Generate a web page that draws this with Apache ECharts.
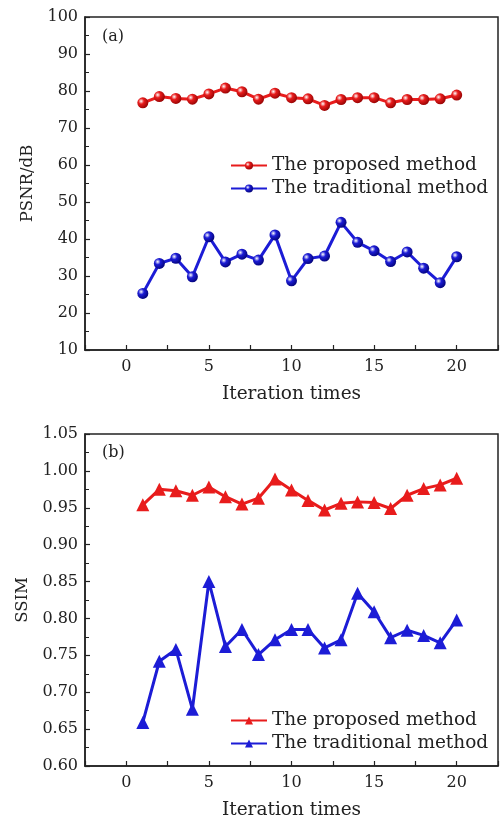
<!DOCTYPE html>
<html>
<head>
<meta charset="utf-8">
<script src="https://cdn.jsdelivr.net/npm/echarts@6/dist/echarts.min.js"></script>
<style>
html,body{margin:0;padding:0;background:#fff;}
#main{width:501px;height:821px;}
</style>
</head>
<body>
<div id="main"></div>
<script>
// 迭代次数
var iterations = [1,2,3,4,5,6,7,8,9,10,11,12,13,14,15,16,17,18,19,20];
// (a) PSNR
var psnrProposed = [76.8,78.5,78.0,77.8,79.2,80.8,79.8,77.8,79.4,78.2,77.9,76.1,77.7,78.2,78.2,76.8,77.7,77.7,77.9,78.9];
var psnrTraditional = [25.3,33.4,34.8,29.8,40.6,33.8,35.9,34.3,41.1,28.7,34.7,35.4,44.5,39.1,36.8,33.9,36.5,32.1,28.2,35.2];
// (b) SSIM
var ssimProposed = [0.954,0.975,0.973,0.967,0.978,0.965,0.955,0.963,0.989,0.974,0.960,0.947,0.956,0.958,0.957,0.949,0.967,0.976,0.981,0.990];
var ssimTraditional = [0.659,0.742,0.758,0.677,0.850,0.762,0.785,0.751,0.771,0.785,0.785,0.760,0.771,0.834,0.809,0.774,0.784,0.777,0.767,0.798];
var seriesNames = ['The proposed method','The traditional method'];

var FONT = 'DejaVu Serif';
var RED = '#e81c1c';
var BLUE = '#1c1cd6';
var AXIS = '#222';

function pairs(ys)
{
	var out = [];
	for(var i=0;i<iterations.length;i++)
	{
		out.push([iterations[i], ys[i]]);
	}
	return out;
}
//球形标记
function sphere(c, dark)
{
	return {type:'radial', x:0.35, y:0.35, r:0.75,
		colorStops:[{offset:0,color:'#ffffff'},{offset:0.35,color:c},{offset:1,color:dark}]};
}

function xAxis(gridIndex)
{
	return {
		type:'value', gridIndex:gridIndex, min:-2.5, max:22.5, interval:2.5,
		name:'Iteration times', nameLocation:'middle', nameGap:35,
		nameTextStyle:{fontFamily:FONT, fontSize:18.5, color:'#222'},
		axisLine:{onZero:false, lineStyle:{color:AXIS, width:1.5}},
		axisTick:{inside:true, length:5, lineStyle:{color:AXIS, width:1.2}},
		axisLabel:{margin:9, fontFamily:FONT, fontSize:16, color:'#222',
			formatter:function(v){ return (v % 5 === 0) ? String(v) : ''; }},
		splitLine:{show:false}
	};
}
function yAxis(gridIndex, name, min, max, interval, digits)
{
	return {
		type:'value', gridIndex:gridIndex, min:min, max:max, interval:interval,
		name:name, nameLocation:'middle', nameGap:49,
		nameTextStyle:{fontFamily:FONT, fontSize:16.5, color:'#222'},
		axisLine:{onZero:false, lineStyle:{color:AXIS, width:1.5}},
		axisTick:{inside:true, length:5, lineStyle:{color:AXIS, width:1.2}},
		minorTick:{show:true, splitNumber:2, length:4, lineStyle:{color:AXIS, width:1}},
		axisLabel:{margin:7, fontFamily:FONT, fontSize:16, color:'#222',
			formatter:function(v){ return v.toFixed(digits); }},
		splitLine:{show:false}
	};
}
function lineSeries(name, idx, ys, color, dark, symbol, size)
{
	return {
		name:name, type:'line', xAxisIndex:idx, yAxisIndex:idx,
		data:pairs(ys), symbol:symbol, symbolSize:size,
		lineStyle:{color:color, width:3},
		itemStyle:{color: symbol == 'circle' ? sphere(color, dark) : color, borderWidth:0},
		emphasis:{disabled:true}, z:3
	};
}
function legend(top, names)
{
	return {
		data:names, orient:'vertical', left:225, top:top, itemGap:4,
		itemWidth:36, itemHeight:10,
		textStyle:{fontFamily:FONT, fontSize:18.5, color:'#222'}
	};
}

var chart = echarts.init(document.getElementById('main'), null, {renderer:'canvas'});
var option = {
	animation:false,
	backgroundColor:'#fff',
	grid:[
		{left:85, right:1, top:17, height:333, show:true, borderColor:AXIS, borderWidth:1.5},
		{left:85, right:1, top:434, height:333, show:true, borderColor:AXIS, borderWidth:1.5}
	],
	xAxis:[xAxis(0), xAxis(1)],
	yAxis:[yAxis(0,'PSNR/dB',10,100,10,0), yAxis(1,'SSIM',0.6,1.05,0.05,2)],
	legend:[
		legend(151, [seriesNames[0], seriesNames[1]]),
		legend(706, [seriesNames[0]+' ', seriesNames[1]+' '])
	],
	graphic:[
		{type:'text', left:102, top:29, style:{text:'(a)', font:'16px "DejaVu Serif"', fill:'#222'}},
		{type:'text', left:102, top:445, style:{text:'(b)', font:'16px "DejaVu Serif"', fill:'#222'}}
	],
	series:[
		lineSeries(seriesNames[0], 0, psnrProposed, RED, '#8a0000', 'circle', 11),
		lineSeries(seriesNames[1], 0, psnrTraditional, BLUE, '#00006e', 'circle', 11),
		lineSeries(seriesNames[0]+' ', 1, ssimProposed, RED, '#8a0000', 'triangle', 13),
		lineSeries(seriesNames[1]+' ', 1, ssimTraditional, BLUE, '#00006e', 'triangle', 13)
	]
};
chart.setOption(option);
</script>
</body>
</html>
